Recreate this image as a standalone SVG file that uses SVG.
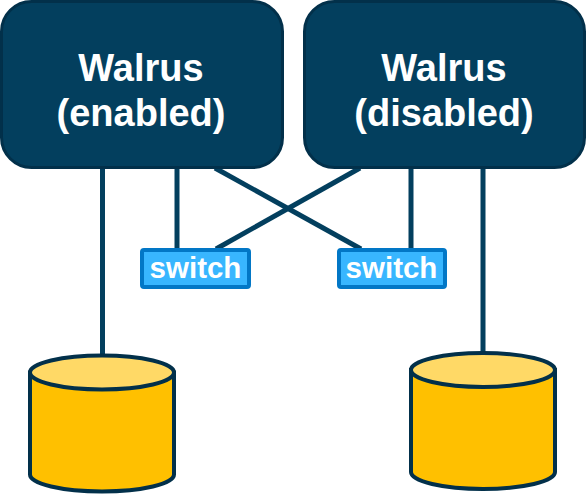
<svg xmlns="http://www.w3.org/2000/svg" width="586" height="494" viewBox="0 0 586 494">
<style>
.box{fill:#033F5E;stroke:#02304A;stroke-width:3}
.big{font:bold 38px "Liberation Sans",Arial,sans-serif;fill:#fff;text-anchor:middle}
.sw{fill:#38B6FF;stroke:#0277C6;stroke-width:4}
.swt{font:bold 29.500px "Liberation Sans",Arial,sans-serif;fill:#fff;text-anchor:middle}
.conn{stroke:#033F5E;stroke-width:5;fill:none}
.body{fill:#FFC000;stroke:#02304A;stroke-width:4}
.top{fill:#FFD966;stroke:#02304A;stroke-width:4}
</style>
<g id="connectors">
<path class="conn" d="M102.500 168V356"/>
<path class="conn" d="M177 168V249"/>
<path class="conn" d="M215 168L361 249"/>
<path class="conn" d="M360 168L216 249"/>
<path class="conn" d="M411 168V249"/>
<path class="conn" d="M483 168V353"/>
</g>
<g id="walrus-enabled">
<rect class="box" x="1.500" y="1.500" width="281" height="166" rx="30"/>
<text class="big" x="141" y="81">Walrus</text>
<text class="big" x="141" y="126">(enabled)</text>
</g>
<g id="walrus-disabled">
<rect class="box" x="304.500" y="1.500" width="280" height="166" rx="30"/>
<text class="big" x="444" y="81">Walrus</text>
<text class="big" x="444" y="126">(disabled)</text>
</g>
<g id="switch-1">
<rect class="sw" x="142" y="250" width="107" height="37" rx="2"/>
<text class="swt" x="195.500" y="278">switch</text>
</g>
<g id="switch-2">
<rect class="sw" x="339" y="250" width="106" height="37" rx="2"/>
<text class="swt" x="391.500" y="278">switch</text>
</g>
<g id="cylinder-1">
<path class="body" d="M30 372.500V474.500A72 17 0 0 0 174 474.500V372.500Z"/>
<ellipse class="top" cx="102" cy="372.500" rx="72" ry="17"/>
</g>
<g id="cylinder-2">
<path class="body" d="M411 370V472A72 17 0 0 0 555 472V370Z"/>
<ellipse class="top" cx="483" cy="370" rx="72" ry="17"/>
</g>
</svg>
